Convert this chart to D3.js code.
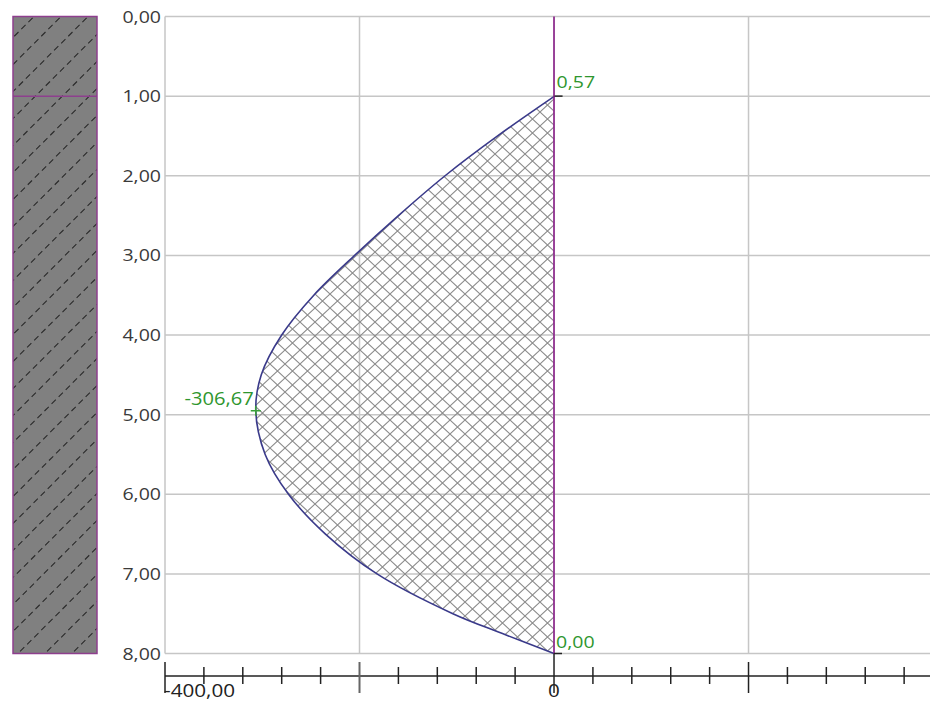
<!DOCTYPE html>
<html>
<head>
<meta charset="utf-8">
<script src="https://cdn.jsdelivr.net/npm/d3@7"></script>
<style>
  html, body { margin: 0; padding: 0; background: #fff; }
  svg { display: block; }
  text { font-family: "Open Sans", "Noto Sans", sans-serif; }
</style>
</head>
<body>
<svg id="chart" width="930" height="702"></svg>
<script>
// ---------- data ----------
const depths = [1.0, 1.5, 2.0, 2.5, 3.0, 3.5, 4.0, 4.5, 4.95, 5.5, 6.0, 6.5, 7.0, 7.5, 7.75, 8.0];
const values = [0.57, -58, -112, -160, -205, -247, -280, -301, -306.67, -297, -273, -235, -182, -104, -53, 0.00];
const yTickValues = [0, 1, 2, 3, 4, 5, 6, 7, 8];
const xGridValues = [-400, -200, 0, 200];
const xMinorTicks = [-360, -320, -280, -240, -160, -120, -80, -40, 40, 80, 120, 160, 240, 280, 320, 360];
const xMajorTicks = [-400, -200, 0, 200];
const xLabelValues = [-400, 0];
const xLabelTexts = ["-400,00", "0"];
const soilLayers = [0, 1, 8];
const annotValues = [0.57, -306.67, 0.00];
const annotDepths = [1.0, 4.95, 8.0];
const annotTexts = ["0,57", "-306,67", "0,00"];

// ---------- setup ----------
const svg = d3.select("#chart");
const x = d3.scaleLinear().domain([-400, 386.6]).range([165, 930]);
const y = d3.scaleLinear().domain([0, 8]).range([16.5, 653.5]);
const loc = d3.formatLocale({decimal: ",", thousands: ".", grouping: [3], currency: ["", ""]});
const fmt = loc.format(".2f");
const SX = 1.15;

const defs = svg.append("defs");
const PW = 15, PH = 14;
const pat = defs.append("pattern").attr("id", "xhatch")
  .attr("patternUnits", "userSpaceOnUse").attr("width", PW).attr("height", PH);
pat.append("path").attr("d", `M0,0 L${PW},${PH} M${PW},0 L0,${PH}`)
  .attr("stroke", "#8c8c8c").attr("stroke-width", 1.1).attr("fill", "none");

// ---------- grid ----------
svg.append("g").selectAll("line").data(yTickValues).join("line")
  .attr("x1", x(-400)).attr("x2", 930)
  .attr("y1", d => y(d)).attr("y2", d => y(d))
  .attr("stroke", "#c6c6c6").attr("stroke-width", 1.5);
svg.append("g").selectAll("line").data(xGridValues).join("line")
  .attr("x1", d => x(d)).attr("x2", d => x(d))
  .attr("y1", y(0)).attr("y2", y(8))
  .attr("stroke", "#c6c6c6").attr("stroke-width", 1.5);

// ---------- y labels ----------
svg.append("g").selectAll("text").data(yTickValues).join("text")
  .attr("transform", d => `translate(161,${y(d) + 6}) scale(${SX},1)`)
  .attr("text-anchor", "end").attr("font-size", 17).attr("fill", "#3a3a3a")
  .text(d => fmt(d));

// ---------- soil column ----------
const colX0 = 13, colX1 = 97;
defs.append("clipPath").attr("id", "colclip").append("rect")
  .attr("x", colX0).attr("y", y(0)).attr("width", colX1 - colX0).attr("height", y(8) - y(0));
svg.append("rect").attr("x", colX0).attr("y", y(0))
  .attr("width", colX1 - colX0).attr("height", y(8) - y(0))
  .attr("fill", "#808080");
const hatchIdx = d3.range(-26, 8);
svg.append("g").attr("clip-path", "url(#colclip)").selectAll("line").data(hatchIdx).join("line")
  .attr("x1", i => colX0 + i * 27).attr("y1", y(8) + 5)
  .attr("x2", i => colX0 + i * 27 + 720).attr("y2", y(8) + 5 - 720)
  .attr("stroke", "#2a2a2a").attr("stroke-width", 1.1).attr("stroke-dasharray", "6,4");
svg.append("rect").attr("x", colX0).attr("y", y(0))
  .attr("width", colX1 - colX0).attr("height", y(8) - y(0))
  .attr("fill", "none").attr("stroke", "#8e3f8e").attr("stroke-width", 1.5);
svg.append("g").selectAll("line").data(soilLayers.slice(1, -1)).join("line")
  .attr("x1", colX0).attr("x2", colX1).attr("y1", d => y(d)).attr("y2", d => y(d))
  .attr("stroke", "#8e3f8e").attr("stroke-width", 1.5);

// ---------- diagram ----------
const pts = depths.map((d, i) => ({d, v: values[i]}));
const curve = d3.curveCatmullRom.alpha(0.5);
const area = d3.area().curve(curve)
  .y(p => y(p.d)).x0(x(0)).x1(p => x(p.v));
svg.append("path").datum(pts).attr("d", area).attr("fill", "url(#xhatch)");
const line = d3.line().curve(curve).x(p => x(p.v)).y(p => y(p.d));
svg.append("path").datum(pts).attr("d", line)
  .attr("fill", "none").attr("stroke", "#3a3a8a").attr("stroke-width", 1.6);

// zero line
svg.append("line").attr("x1", x(0)).attr("x2", x(0)).attr("y1", y(0)).attr("y2", y(8))
  .attr("stroke", "#8b1f8b").attr("stroke-width", 1.6);

// ---------- annotations ----------
svg.append("g").selectAll("line").data([0, 2]).join("line")
  .attr("x1", i => x(annotValues[i])).attr("x2", i => x(annotValues[i]) + 8)
  .attr("y1", i => y(annotDepths[i])).attr("y2", i => y(annotDepths[i]))
  .attr("stroke", "#222").attr("stroke-width", 1.5);
const peak = 1;
const px = x(annotValues[peak]), py = y(annotDepths[peak]);
svg.append("path").attr("d", `M${px - 5},${py}H${px + 5}M${px},${py - 5}V${py + 5}`)
  .attr("stroke", "#3aa03a").attr("stroke-width", 1.5);
svg.append("text")
  .attr("transform", `translate(${x(annotValues[0]) + 2},${y(annotDepths[0]) - 8}) scale(${SX},1)`)
  .attr("font-size", 17).attr("fill", "#2e962e").text(annotTexts[0]);
svg.append("text")
  .attr("transform", `translate(${px - 2},${py - 6}) scale(${SX},1)`)
  .attr("text-anchor", "end").attr("font-size", 17.5).attr("fill", "#2e962e").text(annotTexts[1]);
svg.append("text")
  .attr("transform", `translate(${x(annotValues[2]) + 2},${y(annotDepths[2]) - 6}) scale(${SX},1)`)
  .attr("font-size", 17).attr("fill", "#2e962e").text(annotTexts[2]);

// ---------- x axis ----------
const axY = 676;
svg.append("line").attr("x1", x(-400)).attr("x2", 930).attr("y1", axY).attr("y2", axY)
  .attr("stroke", "#222").attr("stroke-width", 1.5);
svg.append("g").selectAll("line").data(xMinorTicks).join("line")
  .attr("x1", d => x(d)).attr("x2", d => x(d)).attr("y1", axY - 9).attr("y2", axY + 8)
  .attr("stroke", "#222").attr("stroke-width", 1.5);
svg.append("g").selectAll("line").data(xMajorTicks).join("line")
  .attr("x1", d => x(d)).attr("x2", d => x(d))
  .attr("y1", d => d === 0 ? y(8) : axY - 14).attr("y2", axY + 17)
  .attr("stroke", d => d === -200 ? "#666" : "#222").attr("stroke-width", d => d === -200 ? 2 : 1.5);
svg.append("g").selectAll("text").data(xLabelValues).join("text")
  .attr("transform", (d, i) => `translate(${i === 0 ? x(d) - 1 : x(d)},697) scale(${SX},1)`)
  .attr("text-anchor", (d, i) => i === 0 ? "start" : "middle")
  .attr("font-size", 18).attr("fill", "#222")
  .text((d, i) => xLabelTexts[i]);
</script>
</body>
</html>
